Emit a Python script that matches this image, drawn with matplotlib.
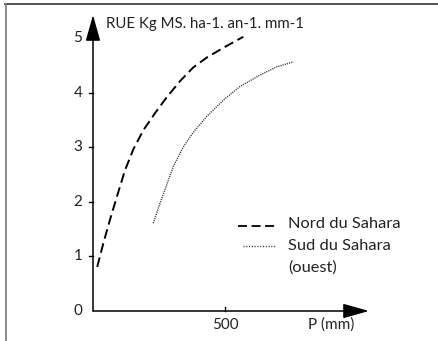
import matplotlib
matplotlib.use("Agg")
import matplotlib.pyplot as plt
from matplotlib.lines import Line2D

# values (P in mm, RUE)
nord_p = [16, 39, 64, 90, 121, 153, 191, 235, 279, 330, 380, 431, 494, 569]
nord_rue = [0.81, 1.24, 1.67, 2.09, 2.58, 2.97, 3.32, 3.63, 3.92, 4.22, 4.47, 4.65, 4.83, 5.03]
sud_p = [228, 254, 304, 342, 380, 431, 494, 557, 633, 696, 759]
sud_rue = [1.61, 1.98, 2.65, 3.01, 3.28, 3.57, 3.87, 4.12, 4.33, 4.48, 4.57]
y_ticks = [0, 1, 2, 3, 4, 5]
x_ticks = [500]

W, H = 439, 341
fig = plt.figure(figsize=(W / 100, H / 100), dpi=100)
plt.rcParams['font.family'] = ['Lato', 'DejaVu Sans']


def fx(px):
    return px / W


def fy(py):
    return 1 - py / H


# outer frame (top and left edges only)
fig.add_artist(Line2D([fx(5), fx(439)], [fy(4), fy(4)], color='#333333', lw=1.2))
fig.add_artist(Line2D([fx(6), fx(6)], [fy(4), fy(341)], color='#777777', lw=1.2))

ax = fig.add_axes([fx(93), 30 / H, (369 - 93) / W, (311 - 15) / H])
ax.set_xlim(0, 1045)
ax.set_ylim(0, 5.43)
for s in ax.spines.values():
    s.set_visible(False)
ax.set_xticks([])
ax.set_yticks([])
ax.patch.set_alpha(0)

# arrowed axes
arrow = dict(arrowstyle='-|>,head_length=1.6,head_width=0.45', color='black', lw=1.1,
             shrinkA=0, shrinkB=0)
ax.annotate('', xy=(1, 0), xytext=(0, 0), xycoords='axes fraction', arrowprops=arrow)
ax.annotate('', xy=(0, 1), xytext=(0, 0), xycoords='axes fraction', arrowprops=arrow)

for v in y_ticks[1:]:
    ax.plot([-14, 0], [v, v], color='black', lw=1, clip_on=False)
for v in y_ticks:
    ax.text(-40, v, str(v), ha='right', va='center', fontsize=11, color='#222222')
for v in x_ticks:
    ax.plot([v, v], [0, 0.08], color='black', lw=1, clip_on=False)
    ax.text(v, -0.13, str(v), ha='center', va='top', fontsize=11, color='#222222')

ax.plot(nord_p, nord_rue, color='black', lw=1.4, linestyle=(0, (5, 2.5)), clip_on=False)
ax.plot(sud_p, sud_rue, color='#333333', lw=1.0, linestyle=(0, (0.8, 0.8)), clip_on=False)

fig.text(fx(106), fy(24), 'RUE Kg MS. ha-1. an-1. mm-1', fontsize=10.8, va='center', ha='left',
         color='#222222')
fig.text(fx(331), fy(325), 'P (mm)', fontsize=11, va='center', ha='center', color='#222222')

# legend
fig.add_artist(Line2D([fx(238), fx(278)], [fy(226), fy(226)], color='black', lw=1.3,
                      linestyle=(0, (5, 2.5))))
fig.add_artist(Line2D([fx(243), fx(275)], [fy(246), fy(246)], color='#333333', lw=1.0,
                      linestyle=(0, (0.8, 1.2))))
fig.text(fx(288), fy(224), 'Nord du Sahara', fontsize=11.8, va='center', ha='left', color='#222222')
fig.text(fx(288), fy(246), 'Sud du Sahara', fontsize=11.8, va='center', ha='left', color='#222222')
fig.text(fx(288), fy(268), '(ouest)', fontsize=11.8, va='center', ha='left', color='#222222')

fig.savefig('out.png', dpi=100)
